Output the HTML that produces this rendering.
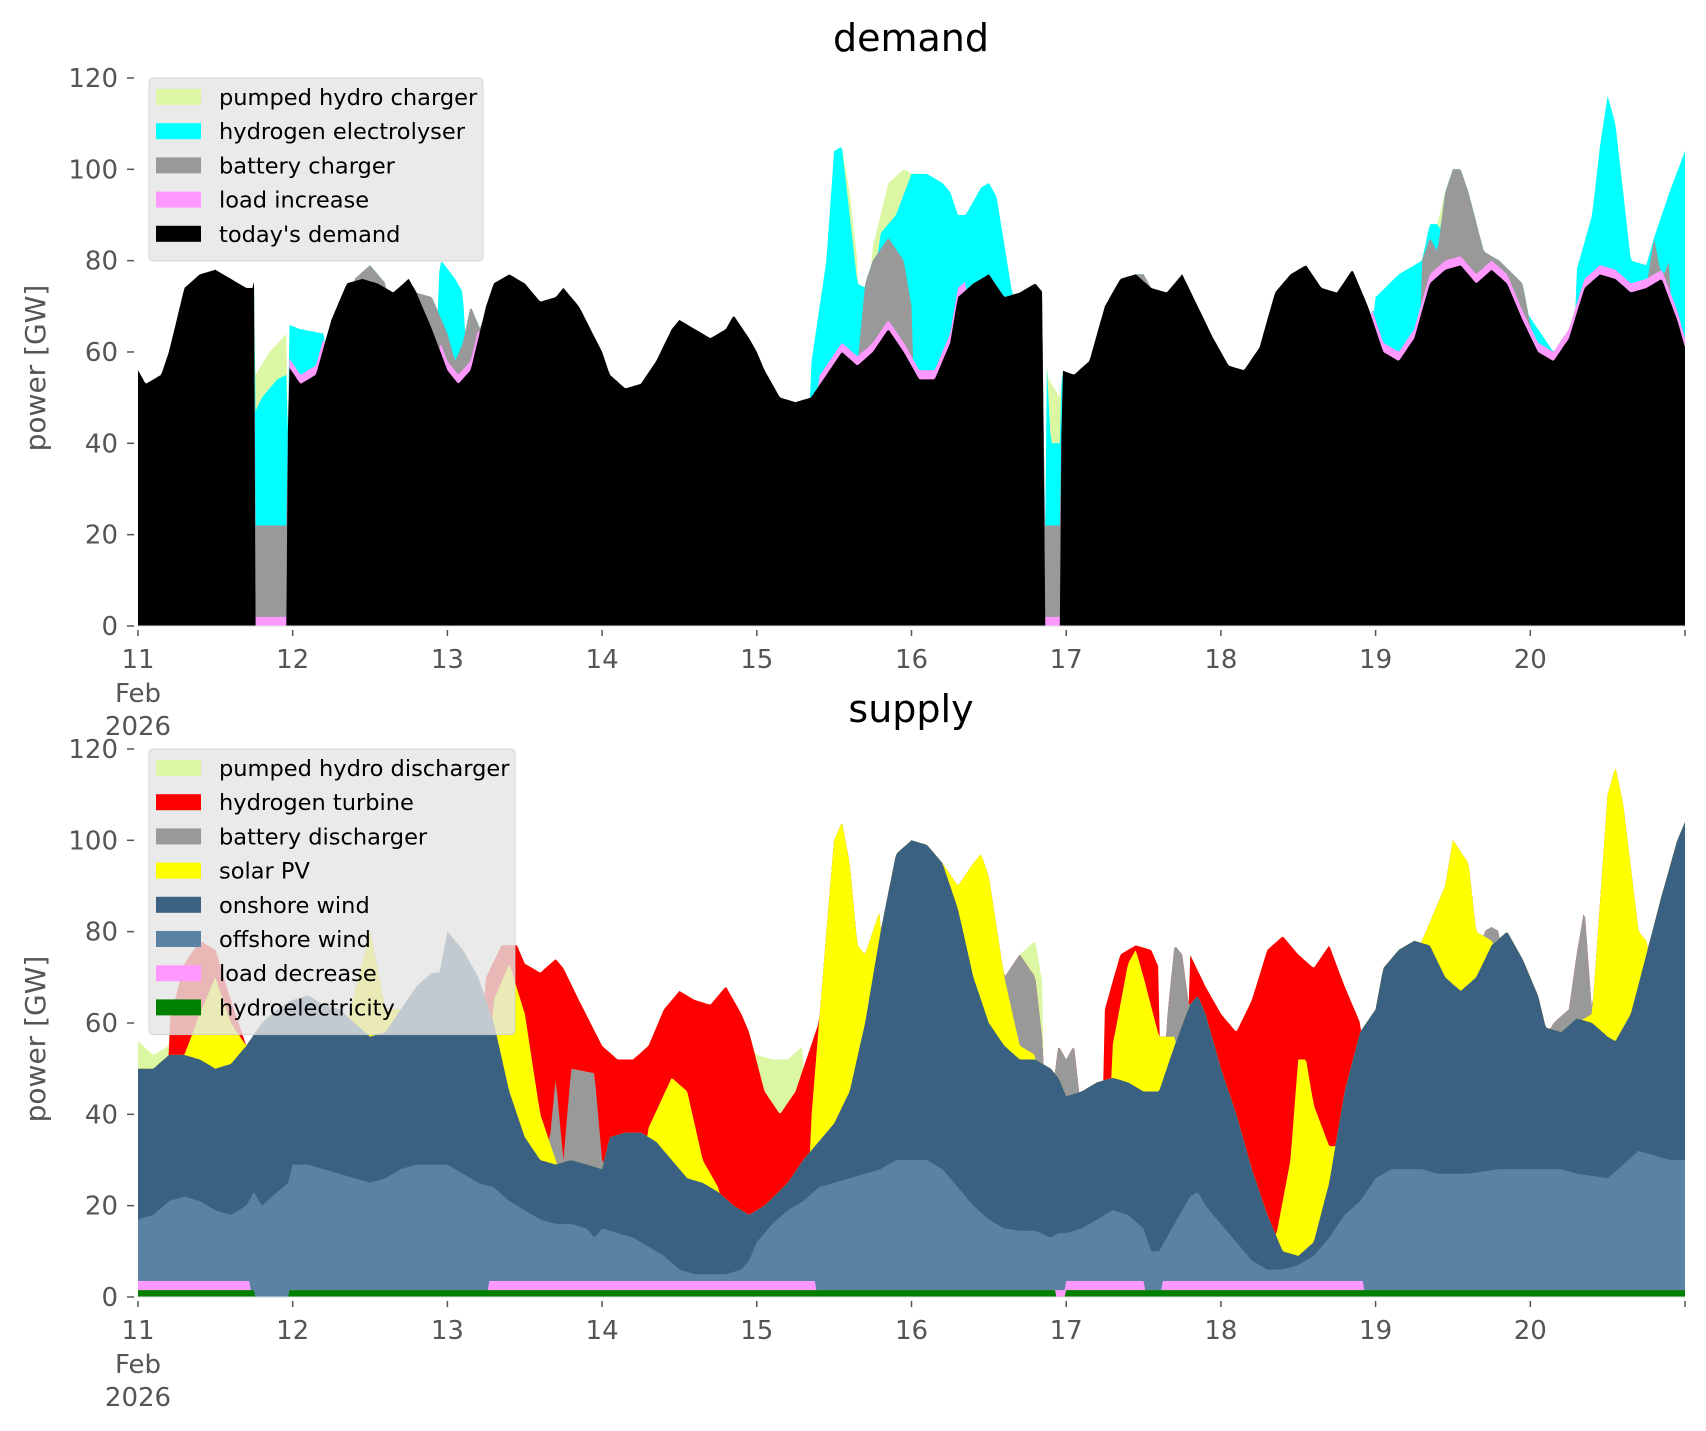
<!DOCTYPE html>
<html><head><meta charset="utf-8"><style>
html,body{margin:0;padding:0;background:#fff;}
svg{display:block;font-family:"DejaVu Sans","Liberation Sans",sans-serif;}
</style></head><body>
<svg id="s" width="1706" height="1431" viewBox="0 0 1706 1431" xmlns="http://www.w3.org/2000/svg">
<g id="dplot"></g><g id="splot"></g><g id="axes"></g>
</svg>
<script>
const X0=138,DW=154.7,K=4.567;
const xs=t=>X0+(t-11)*DW;
function lin(pts,t){ if(t<pts[0][0]||t>pts[pts.length-1][0]) return null;
  for(let i=1;i<pts.length;i++){ if(t<=pts[i][0]){const a=pts[i-1],b=pts[i];const f=(b[0]-a[0])?(t-a[0])/(b[0]-a[0]):0;return a[1]+f*(b[1]-a[1]);}} return pts[pts.length-1][1];}
function p(str){return str.trim().split(/\s+/).map(s=>s.split(':').map(Number));}
const grid=[];for(let t=11;t<=21.0001;t+=1/96)grid.push(+t.toFixed(5));
function layer(lower,segs){return grid.map((t,i)=>{let v=lower[i];for(const s of segs){const r=lin(s,t);if(r!==null)v=Math.max(v,r);}return v;});}
function layerSet(lower,segs){return grid.map((t,i)=>{let v=lower[i];for(const s of segs){const r=lin(s,t);if(r!==null)v=r;}return v;});}
function draw(g,vals,y0,color){let d='M'+xs(11)+','+y0;grid.forEach((t,i)=>{d+='L'+xs(t).toFixed(1)+','+(y0-vals[i]*K).toFixed(1);});d+='L'+xs(21)+','+y0+'Z';
 g.insertAdjacentHTML('beforeend',`<path d="${d}" fill="${color}"/>`);}
// DEMAND
const zero=grid.map(()=>0);
const black=layerSet(zero,[p(`11:56 11.05:53 11.15:55 11.2:60 11.3:74 11.4:77 11.5:78 11.6:76 11.7:74 11.74:74 11.755:76 11.76:0 11.965:0 11.97:57 12.05:53 12.15:55 12.25:67 12.35:75 12.45:76 12.55:75 12.65:73 12.75:76 12.8:73 12.9:65 13:56 13.07:53 13.15:56 13.25:70 13.3:75 13.4:77 13.5:75 13.6:71 13.7:72 13.75:74 13.85:70 14:60 14.05:55 14.15:52 14.25:53 14.35:58 14.45:65 14.5:67 14.6:65 14.7:63 14.8:65 14.85:68 14.95:63 15:60 15.05:56 15.15:50 15.25:49 15.35:50 15.45:55 15.55:60 15.65:57 15.75:60 15.85:65 15.95:60 16.05:54 16.15:54 16.25:62 16.3:72 16.4:75 16.5:77 16.6:72 16.7:73 16.8:75 16.85:73 16.86:0 16.965:0 16.97:56 17.05:55 17.15:58 17.25:70 17.35:76 17.45:77 17.55:74 17.65:73 17.75:77 17.85:70 17.95:63 18.05:57 18.15:56 18.25:61 18.35:73 18.45:77 18.55:79 18.65:74 18.75:73 18.85:78 18.95:70 19.05:60 19.15:58 19.25:63 19.35:75 19.45:78 19.55:79 19.65:75 19.75:78 19.85:75 19.95:67 20.05:60 20.15:58 20.25:63 20.35:74 20.45:77 20.55:76 20.65:73 20.75:74 20.85:76 20.95:67 21:61`)]);
const pinkD=grid.map((t,i)=>{let v=black[i];if((t>=11.97&&t<=12.2)||(t>=12.95&&t<=13.2)||(t>=15.4&&t<=16.35)||(t>=18.97))v+=2;if((t>11.76&&t<11.965)||(t>16.86&&t<16.965))v=2;return v;});
const grayD=layer(pinkD,[p(`11.76:22 11.965:22`),p(`12.4:76 12.5:79 12.6:75`),p(`12.8:73 12.9:72 13:64 13.05:58 13.1:62 13.15:70 13.25:62`),p(`15.65:57 15.7:75 15.75:80 15.85:85 15.95:80 16.0:70`),p(`16.86:22 16.965:22`),p(`17.45:77 17.5:77 17.55:74`),p(`19.3:80 19.35:85 19.4:82 19.45:95 19.5:100 19.55:100 19.6:95 19.7:82 19.8:80 19.95:75 20:66`),p(`20.75:74 20.8:85 20.85:76 20.9:80`)]);
const cyanD=layer(grayD,[p(`11.76:47 11.8:50 11.9:54 11.96:55`),p(`11.97:66 12.05:65 12.2:64`),p(`12.94:76 12.96:80 13.05:76 13.1:73 13.12:60`),p(`15.35:57 15.45:80 15.5:104 15.55:105 15.6:90 15.65:75 15.75:73 15.8:86 15.9:90 16.0:99 16.1:99 16.2:97 16.25:95 16.3:90 16.35:90 16.45:96 16.5:97 16.55:94 16.65:73`),p(`16.87:60 16.9:40 16.96:40 16.97:55`),p(`18.97:63 19.0:72 19.15:77 19.3:80 19.35:88 19.4:88 19.45:85`),p(`19.95:70 20.05:65 20.15:60`),p(`20.3:78 20.4:90 20.45:105 20.5:116 20.55:110 20.65:80 20.75:79 20.8:85 20.9:95 21:104`)]);
const greenD=layer(cyanD,[p(`11.76:55 11.85:60 11.96:64`),p(`15.55:105 15.6:95 15.65:80`),p(`15.75:83 15.85:97 15.95:100 16.0:99`),p(`16.87:55 16.96:50`),p(`19.4:88 19.45:95 19.5:90`)]);
const gd=document.getElementById('dplot');const YD=626;
draw(gd,greenD,YD,'#dcf7a4');draw(gd,cyanD,YD,'#00ffff');draw(gd,grayD,YD,'#999999');draw(gd,pinkD,YD,'#ff99ff');draw(gd,black,YD,'#000000');
// SUPPLY
const pinkS=grid.map((t,i)=>{if((t<=11.72)||(t>=13.27&&t<=15.38)||(t>=17&&t<=17.5)||(t>=17.62&&t<=18.92))return 3.5;if(t>11.75&&t<11.97)return 0;return 1.5;});
const hyS=grid.map((t,i)=>(t>11.75&&t<11.97)||(t>16.93&&t<16.99)?0:1.5);
const off=layerSet(pinkS,[p(`11:17 11.1:18 11.2:21 11.3:22 11.4:21 11.5:19 11.6:18 11.7:20 11.75:23 11.8:20 11.9:23 11.97:25 12:29 12.1:29 12.2:28 12.3:27 12.4:26 12.5:25 12.6:26 12.7:28 12.8:29 12.9:29 13:29 13.1:27 13.2:25 13.3:24 13.4:21 13.5:19 13.6:17 13.7:16 13.8:16 13.9:15 13.95:13 14:15 14.1:14 14.2:13 14.3:11 14.4:9 14.5:6 14.6:5 14.7:5 14.8:5 14.9:6 14.95:8 15:12 15.1:16 15.2:19 15.3:21 15.4:24 15.5:25 15.6:26 15.7:27 15.8:28 15.9:30 16:30 16.1:30 16.2:28 16.3:24 16.4:20 16.5:17 16.6:15 16.7:14.5 16.8:14.5 16.9:13 16.95:14 17:14 17.1:15 17.2:17 17.3:19 17.4:18 17.5:15 17.55:10 17.6:10 17.65:13 17.7:16 17.8:22 17.85:23 17.9:20 18:16 18.1:12 18.2:8 18.3:6 18.4:6 18.5:7 18.6:9 18.7:13 18.8:18 18.9:21 19:26 19.1:28 19.3:28 19.4:27 19.6:27 19.8:28 20:28 20.2:28 20.3:27 20.5:26 20.6:29 20.7:32 20.8:31 20.9:30 21:30`)]);
const on=layer(off,[p(`11:50 11.1:50 11.2:53 11.3:53 11.4:52 11.5:50 11.6:51 11.7:55 11.8:60 11.9:63 12:65 12.1:66 12.2:64 12.3:63 12.4:60 12.5:57 12.6:58 12.7:63 12.8:68 12.9:71 12.95:71 13:80 13.1:76 13.2:70 13.3:60 13.4:45 13.5:35 13.6:30 13.7:29 13.8:30 13.9:29 14:28 14.05:35 14.15:36 14.25:36 14.35:34 14.45:30 14.55:26 14.65:25 14.75:23 14.85:20 14.95:18 15.05:20 15.2:25 15.3:30 15.4:34 15.5:38 15.6:45 15.7:60 15.8:80 15.9:97 16:100 16.1:99 16.2:95 16.3:85 16.4:70 16.5:60 16.6:55 16.7:52 16.8:52 16.9:50 16.95:48 17:44 17.1:45 17.2:47 17.3:48 17.4:47 17.5:45 17.6:45 17.7:55 17.8:64 17.85:66 17.9:62 18:50 18.1:40 18.2:28 18.3:18 18.4:10 18.5:9 18.6:12 18.7:25 18.8:45 18.9:58 19:63 19.05:72 19.15:76 19.25:78 19.35:77 19.45:70 19.55:67 19.65:70 19.75:77 19.85:80 19.95:74 20.05:66 20.1:59 20.2:58 20.3:61 20.4:60 20.5:57 20.55:56 20.65:62 20.75:75 20.85:88 20.95:100 21:104`)]);
const sol=layer(on,[p(`11.3:53 11.4:62 11.5:70 11.6:60 11.7:55`),p(`12.35:60 12.5:80 12.6:63 12.7:63`),p(`13.3:65 13.4:73 13.5:62 13.6:40 13.7:30`),p(`14.3:37 14.45:48 14.55:45 14.65:30 14.75:24`),p(`15.35:38 15.45:80 15.5:100 15.55:104 15.6:95 15.65:77 15.7:75 15.8:85`),p(`16.2:95 16.3:90 16.4:95 16.45:97 16.5:92 16.6:70 16.7:55 16.8:53`),p(`17.3:55 17.4:73 17.45:76 17.5:70 17.6:57 17.7:57`),p(`18.35:12 18.45:30 18.5:52 18.55:52 18.6:42 18.7:33 18.75:33`),p(`19.3:78 19.45:90 19.5:100 19.6:95 19.65:80 19.75:78`),p(`20.3:60 20.4:62 20.5:110 20.55:116 20.6:108 20.7:80 20.75:78`)]);
const bat=layer(sol,[p(`13.65:30 13.7:48 13.75:30 13.8:50 13.95:49 14:30`),p(`16.6:70 16.7:75 16.8:70 16.85:55`),p(`16.93:50 16.95:55 17:52 17.05:55 17.08:46`),p(`17.65:60 17.7:77 17.75:75 17.8:62`),p(`19.7:80 19.75:81 19.8:80`),p(`20.12:58 20.15:60 20.25:63 20.3:75 20.35:85 20.4:62`)]);
const h2=layer(bat,[p(`11.2:60 11.3:73 11.4:78 11.5:76 11.6:65 11.7:55`),p(`13.25:70 13.35:77 13.45:77 13.5:73 13.6:71 13.7:74 13.75:72 13.85:65 14:55 14.1:52 14.2:52 14.3:55 14.4:63 14.5:67 14.6:65 14.7:64 14.8:68 14.9:62 14.95:58 15.05:45 15.15:40 15.25:45 15.35:55 15.4:60`),p(`17.25:63 17.35:75 17.45:77 17.55:76 17.6:72`),p(`17.8:75 17.9:68 18:62 18.1:58 18.2:65 18.3:76 18.4:79 18.5:75 18.6:72 18.7:77 18.8:68 18.9:60`)]);
const ph=layer(h2,[p(`11:56 11.1:53 11.2:55`),p(`14.95:55 15:53 15.1:52 15.2:52 15.3:55`),p(`16.7:75 16.8:78 16.85:68`)]);
const gs=document.getElementById('splot');const YS=1297;
draw(gs,ph,YS,'#dcf7a4');draw(gs,h2,YS,'#ff0000');draw(gs,bat,YS,'#999999');draw(gs,sol,YS,'#ffff00');draw(gs,on,YS,'#3b6182');draw(gs,off,YS,'#5b82a3');draw(gs,pinkS,YS,'#ff99ff');draw(gs,hyS,YS,'#008000');
// AXES
const ax=document.getElementById('axes');let h='';
function axes(y0,title,legend,lx,lw){
 h+=`<line x1="${X0}" y1="${y0}" x2="1685" y2="${y0}" stroke="#ddd" stroke-width="1"/>`;
 for(let v=0;v<=120;v+=20){const y=y0-v*K;h+=`<line x1="127" y1="${y}" x2="134" y2="${y}" stroke="#555" stroke-width="1.5"/><text x="118" y="${y+9}" text-anchor="end" font-size="26" fill="#555">${v}</text>`;}
 for(let d=11;d<=21;d++){const x=xs(d);h+=`<line x1="${x}" y1="${y0+4}" x2="${x}" y2="${y0+10}" stroke="#555" stroke-width="1.5"/>`;if(d<21)h+=`<text x="${x}" y="${y0+42}" text-anchor="middle" font-size="26" fill="#555">${d}</text>`;}
 h+=`<text x="${xs(11)}" y="${y0+76}" text-anchor="middle" font-size="26" fill="#555">Feb</text><text x="${xs(11)}" y="${y0+109}" text-anchor="middle" font-size="26" fill="#555">2026</text>`;
 const cy=y0-258;h+=`<text transform="translate(45,${cy}) rotate(-90)" text-anchor="middle" font-size="28" fill="#555">power [GW]</text>`;
 h+=`<text x="911" y="${y0-575}" text-anchor="middle" font-size="38" fill="#000">${title}</text>`;
 const top=y0-548;const hh=legend.length*34.2+12;
 h+=`<rect x="149" y="${top}" width="${lw}" height="${hh}" rx="4" fill="rgba(229,229,229,0.8)" stroke="rgba(204,204,204,0.8)"/>`;
 legend.forEach((l,i)=>{const cy=top+19+i*34.2;h+=`<rect x="156" y="${cy-8}" width="45" height="16" fill="${l[1]}"/><text x="219" y="${cy+8}" font-size="22.5" fill="#000">${l[0]}</text>`;});
}
axes(626,'demand',[["pumped hydro charger","#dcf7a4"],["hydrogen electrolyser","#00ffff"],["battery charger","#999999"],["load increase","#ff99ff"],["today's demand","#000000"]],149,334);
axes(1297,'supply',[["pumped hydro discharger","#dcf7a4"],["hydrogen turbine","#ff0000"],["battery discharger","#999999"],["solar PV","#ffff00"],["onshore wind","#3b6182"],["offshore wind","#5b82a3"],["load decrease","#ff99ff"],["hydroelectricity","#008000"]],149,366);
ax.innerHTML=h;
</script>
</body></html>
